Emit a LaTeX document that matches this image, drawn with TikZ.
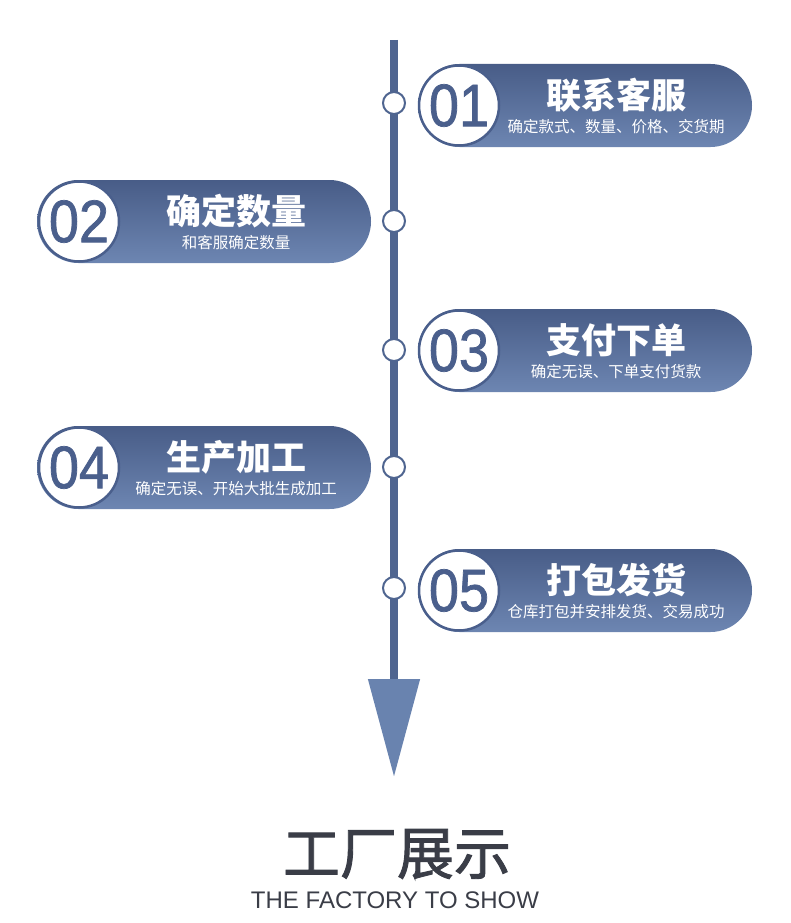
\documentclass[tikz,border=0pt]{standalone}
\usepackage{fontspec}
\setmainfont{Liberation Sans}
\newfontfamily\cjk{Noto Sans CJK SC}
\newfontfamily\cjkmed{Noto Sans CJK SC}[FakeBold=1.6]
\newfontfamily\numfont{Liberation Sans}[FakeStretch=0.9,FakeBold=1.2]
\usetikzlibrary{arrows.meta,positioning,calc}
\definecolor{ptop}{HTML}{485C87}
\definecolor{pbot}{HTML}{6D86B2}
\definecolor{spine}{HTML}{4F6590}
\definecolor{spinetip}{HTML}{6983AF}
\definecolor{numblue}{HTML}{4A5F8C}
\definecolor{dark}{HTML}{3A3D47}

\begin{document}
\begin{tikzpicture}[x=1pt,y=-1pt,
  pill/.style={rounded corners=41.5pt,minimum width=334pt,minimum height=83pt,inner sep=0pt,top color=ptop,bottom color=pbot,draw=none},
  num/.style={circle,draw=numblue,line width=2.5pt,fill=white,minimum size=80pt,inner sep=0pt,text=numblue,font=\numfont\fontsize{60}{60}\selectfont},
  ttl/.style={text=white,font=\cjk\fontsize{35}{35}\selectfont\bfseries,inner sep=0pt},
  sub/.style={text=white,font=\cjk\fontsize{15.5}{15.5}\selectfont,inner sep=0pt},
  dot/.style={circle,draw=spine,line width=2pt,fill=white,minimum size=22pt,inner sep=0pt}]
\useasboundingbox (0,0) rectangle (790,923);
% spine with arrow
\coordinate (top) at (394,40);
\coordinate (tip) at (394,777);
\draw[spine,line width=8pt,-{Triangle[length=98pt,width=50pt,color=spinetip]}] (top)--(tip);
% steps
\node[pill] (p1) at (585,105.5) {};
\node[num] (n1) at (459,105.5) {01};
\node[ttl] (t1) at (616,95) {联系客服};
\node[sub] (s1) at (616,127) {确定款式、数量、价格、交货期};

\node[pill] (p2) at (204,221.5) {};
\node[num] (n2) at (79,221.5) {02};
\node[ttl] (t2) at (236,211) {确定数量};
\node[sub] (s2) at (236,243) {和客服确定数量};

\node[pill] (p3) at (585,350.5) {};
\node[num] (n3) at (459,350.5) {03};
\node[ttl] (t3) at (616,340) {支付下单};
\node[sub] (s3) at (616,372) {确定无误、下单支付货款};

\node[pill] (p4) at (204,467.5) {};
\node[num] (n4) at (79,467.5) {04};
\node[ttl] (t4) at (236,457) {生产加工};
\node[sub] (s4) at (236,489) {确定无误、开始大批生成加工};

\node[pill] (p5) at (585,590.5) {};
\node[num] (n5) at (459,590.5) {05};
\node[ttl] (t5) at (616,580) {打包发货};
\node[sub] (s5) at (616,612) {仓库打包并安排发货、交易成功};
% dots on the spine
\node[dot] (d1) at (394,103) {};
\node[dot] (d2) at (394,221) {};
\node[dot] (d3) at (394,350) {};
\node[dot] (d4) at (394,467) {};
\node[dot] (d5) at (394,588) {};
% footer
\node[text=dark,font=\cjkmed\fontsize{57}{57}\selectfont,inner sep=0pt] (ft) at (397,854) {工厂展示};
\node[text=dark,font=\fontsize{24}{24}\selectfont,inner sep=0pt] (fs) at (395,900) {THE FACTORY TO SHOW};
\end{tikzpicture}
\end{document}
